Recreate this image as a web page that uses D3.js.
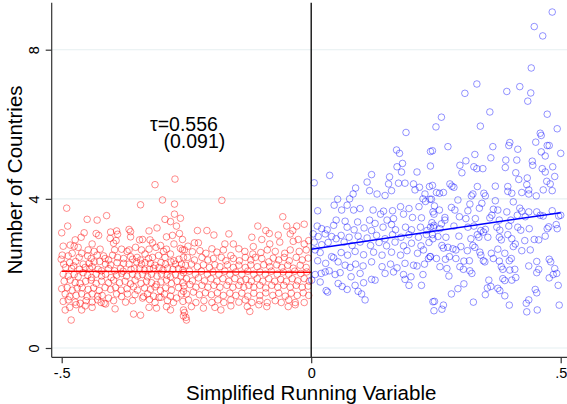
<!DOCTYPE html>
<html>
<head>
<meta charset="utf-8">
<script src="https://cdn.jsdelivr.net/npm/d3@7"></script>
<style>
  body { margin: 0; background: #fff; }
  svg { display: block; }
  text { font-family: "Liberation Sans", Arial, Helvetica, sans-serif; fill: #000; }
</style>
</head>
<body>
<svg id="chart" width="567" height="404"></svg>
<script>
// Axis ticks
const xTicks = [-0.5, 0, 0.5];
const xTickLabels = ["-.5", "0", ".5"];
const yTicks = [0, 4, 8];
const yTickLabels = ["0", "4", "8"];
const xTitle = "Simplified Running Variable";
const yTitle = "Number of Countries";

// Cutoff and estimate annotation
const cutoff = 0;
const tauText = "τ=0.556";
const seText = "(0.091)";
const tauPos = [-0.323, 5.82];
const sePos = [-0.296, 5.37];

// Observations below the cutoff [running variable, number of countries]
const belowPoints = [
[-0.313,4.38],[-0.273,4.53],[-0.342,3.84],[-0.298,3.97],[-0.274,3.86],[-0.490,3.75],[-0.449,3.45],[-0.429,3.43],[-0.410,3.55],[-0.293,3.45],
[-0.282,3.39],[-0.274,3.59],[-0.262,3.48],[-0.270,3.27],[-0.488,3.27],[-0.500,3.09],[-0.455,3.09],[-0.431,3.07],[-0.426,3.02],[-0.402,3.11],
[-0.390,3.14],[-0.388,3.05],[-0.365,3.18],[-0.362,3.12],[-0.325,3.14],[-0.309,3.22],[-0.362,2.98],[-0.403,2.94],[-0.391,2.88],[-0.396,2.81],
[-0.344,2.90],[-0.338,2.91],[-0.323,2.90],[-0.318,2.82],[-0.290,2.98],[-0.278,3.02],[-0.264,3.07],[-0.258,2.91],[-0.473,2.90],[-0.461,2.97],
[-0.483,2.76],[-0.497,2.73],[-0.475,2.73],[-0.467,2.70],[-0.439,2.79],[-0.423,2.65],[-0.435,2.59],[-0.447,2.63],[-0.394,2.63],[-0.380,2.65],
[-0.369,2.59],[-0.365,2.63],[-0.352,2.70],[-0.340,2.63],[-0.325,2.65],[-0.311,2.70],[-0.302,2.75],[-0.296,2.59],[-0.290,2.65],[-0.275,2.79],
[-0.262,2.67],[-0.258,2.63],
[-0.499,2.49],[-0.487,2.47],[-0.479,2.54],[-0.465,2.43],[-0.460,2.54],[-0.448,2.47],[-0.441,2.40],[-0.429,2.49],[-0.416,2.47],[-0.413,2.40],
[-0.406,2.36],[-0.398,2.49],[-0.388,2.43],[-0.376,2.40],[-0.362,2.45],[-0.358,2.38],[-0.349,2.43],[-0.342,2.36],[-0.333,2.52],[-0.326,2.40],
[-0.318,2.43],[-0.306,2.48],[-0.293,2.43],[-0.282,2.52],[-0.275,2.34],[-0.265,2.38],[-0.256,2.43],
[-0.501,2.38],[-0.496,2.25],[-0.484,2.29],[-0.472,2.32],[-0.457,2.25],[-0.445,2.27],[-0.435,2.31],[-0.424,2.32],[-0.412,2.25],[-0.402,2.23],
[-0.389,2.29],[-0.376,2.27],[-0.365,2.25],[-0.350,2.31],[-0.340,2.25],[-0.333,2.29],[-0.322,2.27],[-0.313,2.22],[-0.301,2.29],[-0.292,2.25],
[-0.281,2.31],[-0.272,2.25],[-0.260,2.25],
[-0.492,2.16],[-0.480,2.13],[-0.476,2.20],[-0.464,2.11],[-0.453,2.16],[-0.444,2.13],[-0.439,2.18],[-0.427,2.11],[-0.420,2.07],[-0.406,2.13],
[-0.394,2.07],[-0.382,2.13],[-0.377,2.06],[-0.361,2.11],[-0.354,2.13],[-0.344,2.13],[-0.334,2.09],[-0.324,2.11],[-0.316,2.14],[-0.305,2.16],
[-0.297,2.09],[-0.288,2.14],[-0.277,2.11],[-0.266,2.13],[-0.257,2.09],
[-0.497,1.98],[-0.487,1.93],[-0.475,1.97],[-0.467,1.91],[-0.457,2.02],[-0.448,1.95],[-0.440,1.89],[-0.431,1.98],[-0.420,1.93],[-0.412,1.98],
[-0.401,1.89],[-0.390,1.95],[-0.380,2.00],[-0.370,1.93],[-0.358,1.98],[-0.348,1.93],[-0.338,1.97],[-0.328,1.91],[-0.320,1.98],[-0.309,1.93],
[-0.300,1.98],[-0.289,1.95],[-0.282,1.91],[-0.272,1.97],[-0.261,1.93],
[-0.495,1.79],[-0.483,1.82],[-0.473,1.75],[-0.463,1.73],[-0.452,1.79],[-0.441,1.82],[-0.431,1.73],[-0.420,1.79],[-0.406,1.75],[-0.396,1.82],
[-0.384,1.75],[-0.373,1.79],[-0.362,1.72],[-0.353,1.82],[-0.341,1.73],[-0.330,1.79],[-0.320,1.75],[-0.310,1.70],[-0.301,1.77],[-0.290,1.82],
[-0.280,1.73],[-0.269,1.79],[-0.257,1.75],
[-0.500,1.59],[-0.489,1.62],[-0.479,1.55],[-0.469,1.61],[-0.459,1.62],[-0.447,1.57],[-0.436,1.61],[-0.425,1.54],[-0.413,1.62],[-0.402,1.57],
[-0.392,1.62],[-0.381,1.55],[-0.369,1.59],[-0.356,1.64],[-0.348,1.55],[-0.334,1.61],[-0.322,1.57],[-0.313,1.64],[-0.302,1.54],[-0.292,1.61],
[-0.280,1.55],[-0.266,1.62],[-0.256,1.52],
[-0.493,1.45],[-0.484,1.38],[-0.471,1.41],[-0.460,1.45],[-0.449,1.38],[-0.439,1.45],[-0.428,1.39],[-0.419,1.41],[-0.406,1.34],[-0.390,1.45],
[-0.380,1.38],[-0.368,1.45],[-0.353,1.43],[-0.338,1.34],[-0.328,1.45],[-0.316,1.39],[-0.305,1.36],[-0.294,1.45],[-0.282,1.39],[-0.270,1.34],
[-0.260,1.45],
[-0.497,1.25],[-0.487,1.29],[-0.473,1.23],[-0.463,1.20],[-0.451,1.27],[-0.439,1.23],[-0.428,1.29],[-0.421,1.22],[-0.412,1.18],[-0.396,1.27],
[-0.372,1.23],[-0.358,1.27],[-0.336,1.38],[-0.324,1.30],[-0.313,1.22],[-0.301,1.36],[-0.288,1.27],[-0.276,1.22],[-0.257,1.25],
[-0.484,1.09],[-0.471,1.16],[-0.453,1.13],[-0.439,1.09],[-0.415,1.20],[-0.393,1.05],[-0.356,0.91],[-0.342,0.88],[-0.325,1.09],[-0.310,1.07],
[-0.290,1.11],[-0.282,1.02],[-0.256,1.02],[-0.256,0.86],[-0.481,0.75],[-0.460,1.02],[-0.493,1.02],
[-0.179,3.96],[-0.057,3.52],[-0.228,3.15],[-0.209,3.15],[-0.195,3.03],[-0.165,3.06],[-0.107,3.27],[-0.091,3.15],[-0.084,3.07],[-0.066,3.03],
[-0.049,3.27],[-0.037,3.15],[-0.029,3.27],[-0.014,3.32],[-0.042,3.06],[-0.119,2.97],[-0.099,2.91],[-0.026,2.91],[-0.234,2.82],[-0.226,2.82],
[-0.173,2.79],[-0.156,2.79],[-0.145,2.66],[-0.199,2.66],[-0.176,2.63],[-0.247,2.73],[-0.116,2.72],[-0.083,2.79],[-0.063,2.84],[-0.036,2.86],
[-0.014,2.79],[-0.005,2.88],[-0.254,2.63],[-0.238,2.58],[-0.223,2.61],[-0.211,2.54],[-0.189,2.57],[-0.161,2.48],[-0.133,2.59],[-0.117,2.52],
[-0.101,2.56],[-0.088,2.63],[-0.072,2.59],[-0.053,2.54],[-0.042,2.63],[-0.024,2.59],[-0.010,2.63],
[-0.248,2.43],[-0.234,2.36],[-0.219,2.43],[-0.207,2.36],[-0.196,2.40],[-0.180,2.43],[-0.171,2.34],[-0.156,2.40],[-0.144,2.34],[-0.132,2.43],
[-0.121,2.36],[-0.112,2.43],[-0.099,2.40],[-0.085,2.31],[-0.076,2.41],[-0.065,2.36],[-0.054,2.43],[-0.044,2.34],[-0.030,2.43],[-0.018,2.36],
[-0.006,2.41],
[-0.252,2.22],[-0.240,2.25],[-0.228,2.18],[-0.216,2.23],[-0.204,2.16],[-0.193,2.23],[-0.183,2.18],[-0.168,2.23],[-0.156,2.16],[-0.145,2.22],
[-0.132,2.16],[-0.121,2.23],[-0.108,2.18],[-0.095,2.23],[-0.083,2.18],[-0.069,2.23],[-0.059,2.16],[-0.047,2.22],[-0.036,2.14],[-0.022,2.22],
[-0.010,2.16],
[-0.256,2.02],[-0.244,2.06],[-0.232,1.98],[-0.220,2.06],[-0.208,1.98],[-0.197,2.04],[-0.185,1.98],[-0.173,2.06],[-0.163,1.98],[-0.151,2.04],
[-0.139,1.98],[-0.127,2.06],[-0.115,1.98],[-0.103,2.04],[-0.092,1.98],[-0.080,2.06],[-0.068,1.98],[-0.056,2.04],[-0.045,1.98],[-0.033,2.06],
[-0.021,2.00],[-0.009,2.04],
[-0.250,1.86],[-0.238,1.80],[-0.226,1.88],[-0.214,1.80],[-0.201,1.86],[-0.189,1.79],[-0.177,1.86],[-0.165,1.79],[-0.153,1.86],[-0.141,1.79],
[-0.131,1.84],[-0.120,1.79],[-0.108,1.86],[-0.097,1.79],[-0.085,1.86],[-0.073,1.79],[-0.061,1.84],[-0.050,1.79],[-0.038,1.86],[-0.027,1.80],
[-0.014,1.86],[-0.004,1.79],
[-0.255,1.66],[-0.243,1.70],[-0.231,1.63],[-0.219,1.68],[-0.207,1.63],[-0.195,1.68],[-0.183,1.63],[-0.169,1.68],[-0.157,1.63],[-0.145,1.68],
[-0.135,1.63],[-0.125,1.68],[-0.115,1.63],[-0.103,1.68],[-0.091,1.61],[-0.079,1.68],[-0.067,1.63],[-0.055,1.68],[-0.042,1.63],[-0.030,1.68],
[-0.018,1.63],[-0.006,1.66],
[-0.250,1.45],[-0.236,1.50],[-0.224,1.43],[-0.212,1.48],[-0.200,1.43],[-0.188,1.48],[-0.176,1.41],[-0.163,1.47],[-0.151,1.41],[-0.139,1.47],
[-0.127,1.39],[-0.115,1.47],[-0.103,1.41],[-0.091,1.48],[-0.077,1.41],[-0.065,1.47],[-0.052,1.39],[-0.040,1.47],[-0.028,1.41],[-0.016,1.48],
[-0.005,1.41],
[-0.246,1.29],[-0.231,1.22],[-0.215,1.27],[-0.199,1.22],[-0.187,1.29],[-0.175,1.22],[-0.161,1.29],[-0.145,1.23],[-0.132,1.29],[-0.119,1.22],
[-0.103,1.27],[-0.088,1.22],[-0.072,1.27],[-0.060,1.22],[-0.045,1.29],[-0.032,1.22],[-0.014,1.22],
[-0.240,1.11],[-0.216,1.07],[-0.193,1.09],[-0.181,1.02],[-0.161,1.13],[-0.128,1.11],[-0.123,0.98],[-0.105,1.16],[-0.089,1.11],[-0.046,1.11],
[-0.032,1.16],[-0.254,0.95],[-0.251,0.82],[-0.250,0.75]
];

// Observations above the cutoff
const abovePoints = [
[0.483,9.01],[0.447,8.62],[0.464,8.37],[0.441,7.51],[0.332,7.08],[0.308,6.83],[0.418,7.01],[0.392,6.88],[0.440,6.84],[0.434,6.62],
[0.358,6.33],[0.261,6.19],[0.250,5.93],[0.339,5.95],[0.473,6.27],[0.493,5.88],[0.190,5.78],[0.459,5.76],[0.461,5.70],
[0.171,5.31],[0.177,5.22],[0.239,5.27],[0.183,4.95],[0.172,4.86],[0.181,4.72],[0.212,4.72],[0.239,4.88],[0.037,4.63],[0.121,4.65],
[0.157,4.59],[0.006,4.43],[0.112,4.45],[0.155,4.40],[0.175,4.42],[0.188,4.42],[0.205,4.40],[0.217,4.31],[0.237,4.33],[0.089,4.29],
[0.117,4.22],[0.132,4.13],[0.148,4.09],[0.161,4.22],[0.208,4.24],[0.228,4.13],[0.084,4.13],[0.053,3.99],[0.077,4.00],[0.072,3.83],
[0.046,3.83],[0.061,3.70],[0.013,3.68],[0.085,3.70],[0.098,3.74],[0.124,3.70],[0.145,3.67],[0.163,3.68],[0.179,3.79],[0.196,3.74],
[0.216,3.79],[0.229,3.93],[0.241,3.99],[0.224,4.00],[0.139,3.59],[0.165,3.47],[0.185,3.59],[0.203,3.50],[0.221,3.49],[0.244,3.65],
[0.050,3.43],[0.068,3.40],[0.093,3.38],[0.117,3.43],[0.128,3.34],[0.152,3.43],[0.161,3.31],
[0.012,3.27],[0.021,3.20],[0.032,3.17],[0.045,3.29],[0.072,3.24],[0.086,3.17],[0.106,3.22],[0.121,3.15],[0.144,3.24],[0.169,3.17],
[0.189,3.24],[0.201,3.17],[0.219,3.24],[0.232,3.15],[0.245,3.24],
[0.004,3.06],[0.014,2.99],[0.028,3.06],[0.041,2.99],[0.050,2.93],[0.060,3.02],[0.076,2.97],[0.094,3.00],[0.112,2.95],[0.131,3.02],
[0.148,2.93],[0.163,3.04],[0.180,2.97],[0.196,3.04],[0.215,2.97],[0.231,3.04],[0.244,2.93],
[0.006,2.84],[0.021,2.77],[0.034,2.83],[0.066,2.84],[0.082,2.75],[0.098,2.84],[0.119,2.75],[0.136,2.83],[0.151,2.74],[0.168,2.84],
[0.185,2.74],[0.201,2.81],[0.220,2.74],[0.236,2.83],
[0.008,2.63],[0.018,2.56],[0.041,2.45],[0.045,2.42],[0.060,2.56],[0.073,2.49],[0.088,2.59],[0.105,2.50],[0.125,2.57],[0.142,2.49],
[0.161,2.57],[0.179,2.49],[0.192,2.61],[0.213,2.54],[0.225,2.63],[0.239,2.45],
[0.013,2.34],[0.029,2.27],[0.054,2.31],[0.068,2.22],[0.078,2.16],[0.089,2.25],[0.104,2.20],[0.121,2.31],[0.142,2.18],[0.159,2.25],
[0.172,2.15],[0.188,2.27],[0.205,2.22],[0.212,2.20],[0.227,2.25],[0.235,2.40],
[0.008,1.97],[0.020,2.00],[0.028,2.04],[0.036,2.07],[0.048,1.97],[0.058,2.02],[0.080,1.91],[0.098,2.00],[0.121,1.84],[0.128,1.82],
[0.148,2.00],[0.165,2.04],[0.185,1.97],[0.188,1.84],[0.200,1.91],[0.224,1.97],[0.018,1.77],[0.054,1.73],[0.062,1.65],[0.088,1.68],
[0.105,1.75],[0.030,1.54],[0.033,1.50],[0.072,1.57],[0.094,1.52],[0.101,1.45],[0.108,1.29],[0.196,1.68],[0.221,1.68],[0.244,1.24],
[0.001,1.82],
[0.274,5.40],[0.364,5.40],[0.398,5.51],[0.396,5.43],[0.450,5.52],[0.473,5.43],[0.477,5.43],[0.243,5.29],[0.414,5.33],[0.328,5.19],
[0.360,5.10],[0.461,5.26],[0.469,5.15],[0.500,5.22],[0.310,5.02],[0.390,5.04],[0.412,5.04],[0.443,5.01],[0.298,4.90],[0.326,4.86],
[0.332,4.81],[0.344,4.81],[0.389,4.84],[0.444,4.90],[0.463,4.81],[0.484,4.86],[0.302,4.70],[0.410,4.70],[0.469,4.72],[0.416,4.52],
[0.433,4.56],[0.488,4.60],[0.472,4.47],[0.479,4.40],[0.243,4.36],[0.278,4.40],[0.282,4.34],[0.286,4.31],[0.333,4.33],[0.369,4.34],
[0.394,4.33],[0.394,4.20],[0.432,4.38],[0.436,4.24],[0.436,4.13],[0.465,4.24],[0.483,4.22],[0.451,4.08],[0.251,4.17],[0.257,4.15],
[0.265,4.17],[0.324,4.13],[0.321,4.08],[0.346,4.15],[0.349,4.08],[0.402,4.15],[0.422,4.17],[0.238,3.99],[0.294,3.97],[0.318,3.86],
[0.342,3.88],[0.369,3.95],[0.405,3.92],[0.247,3.81],[0.257,3.70],[0.281,3.77],[0.288,3.70],[0.314,3.68],[0.337,3.75],[0.365,3.72],
[0.374,3.70],[0.392,3.65],[0.418,3.75],[0.422,3.67],[0.436,3.65],[0.452,3.65],[0.483,3.68],[0.246,3.59],[0.268,3.50],[0.268,3.43],
[0.297,3.52],[0.310,3.47],[0.329,3.47],[0.358,3.49],[0.362,3.56],[0.377,3.43],[0.400,3.43],[0.413,3.56],[0.429,3.52],[0.459,3.56],
[0.465,3.54],[0.496,3.54],[0.500,3.56],[0.242,3.36],[0.246,3.29],[0.239,3.24],[0.261,3.33],[0.258,3.20],[0.286,3.27],[0.314,3.24],
[0.326,3.27],[0.340,3.15],[0.345,3.11],[0.349,3.18],[0.372,3.24],[0.378,3.16],[0.396,3.27],[0.414,3.24],[0.420,3.16],[0.437,3.20],
[0.473,3.20],[0.476,3.25],[0.491,3.31],[0.493,3.20],[0.243,3.04],[0.254,2.99],[0.270,2.97],[0.296,3.00],[0.320,2.93],[0.333,3.04],
[0.336,2.97],[0.354,2.97],[0.377,2.97],[0.381,2.90],[0.394,3.04],[0.402,2.93],[0.428,2.88],[0.447,2.91],[0.456,2.90],[0.469,3.00],
[0.262,2.75],[0.265,2.68],[0.274,2.70],[0.284,2.66],[0.290,2.63],[0.300,2.72],[0.313,2.61],[0.324,2.75],[0.328,2.70],[0.338,2.57],
[0.361,2.54],[0.374,2.65],[0.388,2.54],[0.405,2.72],[0.409,2.79],[0.422,2.61],[0.439,2.63],[0.238,2.45],[0.251,2.40],[0.269,2.38],
[0.277,2.45],[0.290,2.40],[0.306,2.33],[0.317,2.34],[0.340,2.49],[0.345,2.34],[0.348,2.31],[0.365,2.40],[0.377,2.33],[0.397,2.34],
[0.401,2.40],[0.258,2.18],[0.272,2.13],[0.298,2.18],[0.305,2.11],[0.318,2.07],[0.322,2.00],[0.381,2.18],[0.384,2.11],[0.398,2.09],
[0.408,2.11],[0.436,2.20],[0.452,2.32],[0.456,2.11],[0.452,2.02],[0.477,2.38],[0.480,2.31],[0.488,2.13],[0.485,1.97],[0.492,2.00],
[0.477,1.88],[0.495,1.68],[0.276,1.93],[0.306,1.72],[0.356,1.82],[0.353,1.61],[0.360,1.65],[0.374,1.60],[0.378,1.54],[0.384,1.86],
[0.388,1.81],[0.402,1.82],[0.410,1.89],[0.449,1.57],[0.452,1.48],[0.436,1.29],[0.431,1.20],[0.349,1.43],[0.388,1.40],[0.281,1.45],
[0.294,1.59],[0.247,1.25],[0.265,1.15],[0.325,1.23],[0.262,1.04],[0.397,1.15],[0.432,0.97],[0.453,1.02],[0.497,1.15],[0.246,1.00]
];

// Linear fits on each side of the cutoff [x, fitted value]
const belowFit = [[-0.5, 2.06], [0, 2.03]];
const aboveFit = [[0, 2.65], [0.5, 3.63]];

const svg = d3.select("#chart");
const plotLeft = 51.7, plotRight = 567, plotTop = 2.7, plotBottom = 357.3;

const x = d3.scaleLinear().domain([-0.5, 0.5]).range([61.7, 560.7]);
const y = d3.scaleLinear().domain([0, 8]).range([348, 49.7]);

// Horizontal gridlines
svg.append("g").selectAll("line").data(yTicks).join("line")
  .attr("x1", plotLeft).attr("x2", plotRight)
  .attr("y1", d => y(d)).attr("y2", d => y(d))
  .attr("stroke", "#e6eff1").attr("stroke-width", 1.1);

// Scatter: below the cutoff in red, above in blue
svg.append("g").selectAll("circle").data(belowPoints).join("circle")
  .attr("cx", d => x(d[0])).attr("cy", d => y(d[1])).attr("r", 3.3)
  .attr("fill", "none").attr("stroke", "rgba(255,0,0,0.45)").attr("stroke-width", 1);

svg.append("g").selectAll("circle").data(abovePoints).join("circle")
  .attr("cx", d => x(d[0])).attr("cy", d => y(d[1])).attr("r", 3.3)
  .attr("fill", "none").attr("stroke", "rgba(0,0,255,0.42)").attr("stroke-width", 1);

// Fitted lines
const line = d3.line().x(d => x(d[0])).y(d => y(d[1]));
svg.append("path").datum(belowFit).attr("d", line)
  .attr("fill", "none").attr("stroke", "#ff0000").attr("stroke-width", 1.5);
svg.append("path").datum(aboveFit).attr("d", line)
  .attr("fill", "none").attr("stroke", "#0000ff").attr("stroke-width", 1.5);

// Cutoff line
svg.append("line")
  .attr("x1", x(cutoff)).attr("x2", x(cutoff))
  .attr("y1", plotTop).attr("y2", plotBottom)
  .attr("stroke", "#000").attr("stroke-width", 1.3);

// Axes
const xAxis = d3.axisBottom(x).tickValues(xTicks).tickSize(6)
  .tickFormat((d, i) => xTickLabels[i]);
const gx = svg.append("g").attr("transform", `translate(0,${plotBottom})`).call(xAxis);
gx.select(".domain").remove();
gx.selectAll(".tick line").attr("stroke", "#333").attr("stroke-width", 1.2);
gx.selectAll(".tick text").attr("y", 21).attr("dy", 0)
  .style("font-size", "14.5px").style("font-family", '"Liberation Sans", Arial, sans-serif').attr("fill", "#000");

const yAxis = d3.axisLeft(y).tickValues(yTicks).tickSize(6)
  .tickFormat((d, i) => yTickLabels[i]);
const gy = svg.append("g").attr("transform", `translate(${plotLeft},0)`).call(yAxis);
gy.select(".domain").remove();
gy.selectAll(".tick line").attr("stroke", "#333").attr("stroke-width", 1.2);
gy.selectAll(".tick text")
  .attr("transform", "rotate(-90)")
  .attr("x", 0).attr("y", -12.7).attr("dy", 0)
  .attr("text-anchor", "middle")
  .style("font-size", "14.5px").style("font-family", '"Liberation Sans", Arial, sans-serif').attr("fill", "#000");

// Axis lines
svg.append("line").attr("x1", plotLeft).attr("x2", plotRight)
  .attr("y1", plotBottom).attr("y2", plotBottom)
  .attr("stroke", "#333").attr("stroke-width", 1.2);
svg.append("line").attr("x1", plotLeft).attr("x2", plotLeft)
  .attr("y1", plotTop).attr("y2", plotBottom)
  .attr("stroke", "#333").attr("stroke-width", 1.2);

// Axis titles
svg.append("text").attr("x", x(cutoff)).attr("y", 399.5)
  .attr("text-anchor", "middle").style("font-size", "20.5px").text(xTitle);
svg.append("text").attr("transform", "translate(21.7,180) rotate(-90)")
  .attr("text-anchor", "middle").style("font-size", "20.5px").text(yTitle);

// Estimate annotation: one text block, estimate over its standard error
const note = svg.append("text").style("font-size", "19.5px");
note.append("tspan").attr("x", x(tauPos[0])).attr("y", y(tauPos[1])).text(tauText);
note.append("tspan").attr("x", x(sePos[0])).attr("y", y(sePos[1])).text(seText);
</script>
</body>
</html>
